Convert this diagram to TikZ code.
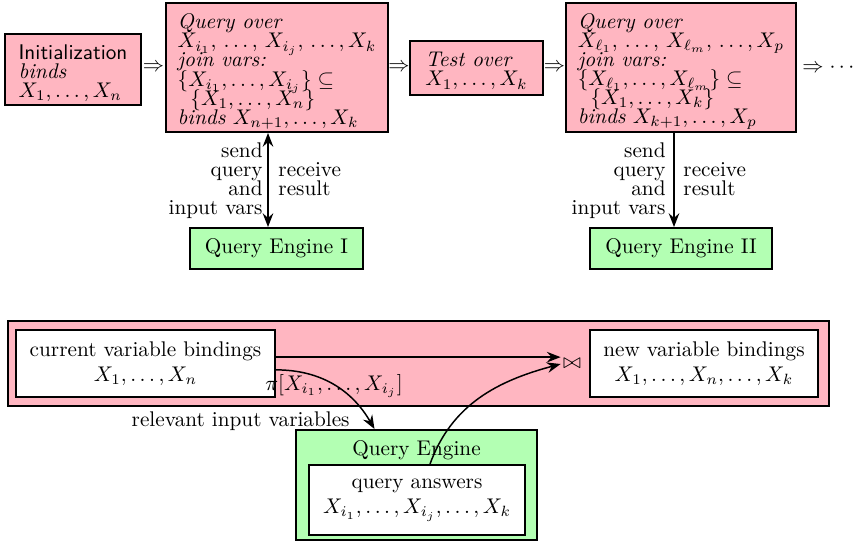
\documentclass[tikz,border=0pt]{standalone}
\usetikzlibrary{arrows.meta,calc}
\definecolor{boxpink}{RGB}{255,182,193}
\definecolor{boxgreen}{RGB}{179,255,179}
\newcommand\pxu{0.471pt}
% taller first line, pushes the block of lines a little lower in its box
\newcommand\topstrut[1]{\rule{0pt}{#1}}
\begin{document}
\begin{tikzpicture}[x=0.471pt,y=-0.471pt,
  tight/.style={font={\lineskiplimit=-30pt\baselineskip=9pt\relax}},
  stage/.style={draw, line width=0.9pt, fill=boxpink, inner sep=0pt, align=left, tight},
  engine/.style={draw, line width=0.9pt, fill=boxgreen, inner sep=0pt},
  plainbox/.style={draw, line width=0.9pt, fill=white, inner sep=0pt, align=center},
  tip/.tip={Stealth[length=6.5pt,width=5pt,inset=2.2pt]},
  arr/.style={line width=0.7pt, -tip},
  lbl/.style={inner sep=0pt, tight}
]
\useasboundingbox (0,0) rectangle (857,545);

% ---- pipeline of stages ----
\node[stage, minimum width=136*\pxu, minimum height=71*\pxu] (init) at (73,69.5)
  {\topstrut{10.3pt}\textsf{Initialization}\\ \textit{binds}\\ $X_1,\ldots,X_n$};
\node[stage, minimum width=222*\pxu, minimum height=129*\pxu] (q1) at (277,67.5)
  {\topstrut{10.8pt}\textit{Query over}\\ $X_{i_1},\,\ldots,\,X_{i_j},\,\ldots,X_k$\\ \textit{join vars:}\\
   $\{X_{i_1},\ldots,X_{i_j}\}\subseteq$\\ \hspace{6pt}$\{X_1,\ldots,X_n\}$\\
   \textit{binds} $X_{n+1},\ldots,X_k$};
\node[stage, minimum width=133*\pxu, minimum height=54*\pxu] (test) at (476.5,68)
  {\topstrut{9.8pt}\textit{Test over}\\ $X_1,\ldots,X_k$};
\node[stage, minimum width=230*\pxu, minimum height=129*\pxu] (q2) at (681,67.5)
  {\topstrut{10.8pt}\textit{Query over}\\ $X_{\ell_1},\,\ldots,\,X_{\ell_m},\,\ldots,X_p$\\ \textit{join vars:}\\
   $\{X_{\ell_1},\ldots,X_{\ell_m}\}\subseteq$\\ \hspace{6pt}$\{X_1,\ldots,X_k\}$\\
   \textit{binds} $X_{k+1},\ldots,X_p$};

\node[inner sep=0pt] (then1) at (153.5,68) {$\Rightarrow$};
\node[inner sep=0pt] (then2) at (399,68) {$\Rightarrow$};
\node[inner sep=0pt] (then3) at (554.5,68) {$\Rightarrow$};
\node[inner sep=0pt, anchor=west] (then4) at (802,68) {$\Rightarrow\cdots$};

% ---- query engines of the pipeline ----
\node[engine, minimum width=173*\pxu, minimum height=41*\pxu] (qe1) at (276.5,248.5) {Query Engine I};
\node[engine, minimum width=182*\pxu, minimum height=41*\pxu] (qe2) at (681,248.5) {Query Engine II};

\draw[line width=0.7pt, tip-tip] ([xshift=-9*\pxu]q1.south) -- ([xshift=-9*\pxu]q1.south |- qe1.north);
\draw[arr] ([xshift=-7*\pxu]q2.south) -- ([xshift=-7*\pxu]q2.south |- qe2.north);

\node[lbl, align=right, anchor=east] (send1) at (263,181) {send\\query\\and\\input vars};
\node[lbl, align=left, anchor=west] (recv1) at (278,179) {receive\\result};
\node[lbl, align=right, anchor=east] (send2) at (666,181) {send\\query\\and\\input vars};
\node[lbl, align=left, anchor=west] (recv2) at (683,179) {receive\\result};

% ---- detail of one query step ----
\node[draw, line width=0.9pt, fill=boxpink, inner sep=0pt,
      minimum width=821*\pxu, minimum height=85*\pxu] (ctx) at (418.5,363.5) {};
\node[plainbox, minimum width=259*\pxu, minimum height=67*\pxu] (cur) at (145.5,363.5)
  {current variable bindings\\ $X_1,\ldots,X_n$};
\node[plainbox, minimum width=228*\pxu, minimum height=67*\pxu] (new) at (704,363.5)
  {new variable bindings\\ $X_1,\ldots,X_n,\ldots,X_k$};
\node[inner sep=1pt] (join) at (572,364) {$\bowtie$};

\node[engine, minimum width=241*\pxu, minimum height=110*\pxu] (qe) at (416.5,485) {};
\node (qetitle) at (416.5,450) {Query Engine};
\node[plainbox, minimum width=216*\pxu, minimum height=70*\pxu] (ans) at (417,500)
  {query answers\\ $X_{i_1},\ldots,X_{i_j},\ldots,X_k$};

\draw[arr] ([yshift=3pt]cur.east) -- ([yshift=3pt]cur.east -| join.west);
\draw[arr] ([yshift=-3pt]cur.east) to[out=0,in=120] ([xshift=-42*\pxu]qe.north);
\draw[arr] ([xshift=13*\pxu]ans.north) to[out=70,in=195] (join.west);

\node[inner sep=0pt] (proj) at (334,386) {$\pi[X_{i_1},\ldots,X_{i_j}]$};
\node[inner sep=0pt, anchor=east] (relin) at (350,421) {relevant input variables};
\end{tikzpicture}
\end{document}
